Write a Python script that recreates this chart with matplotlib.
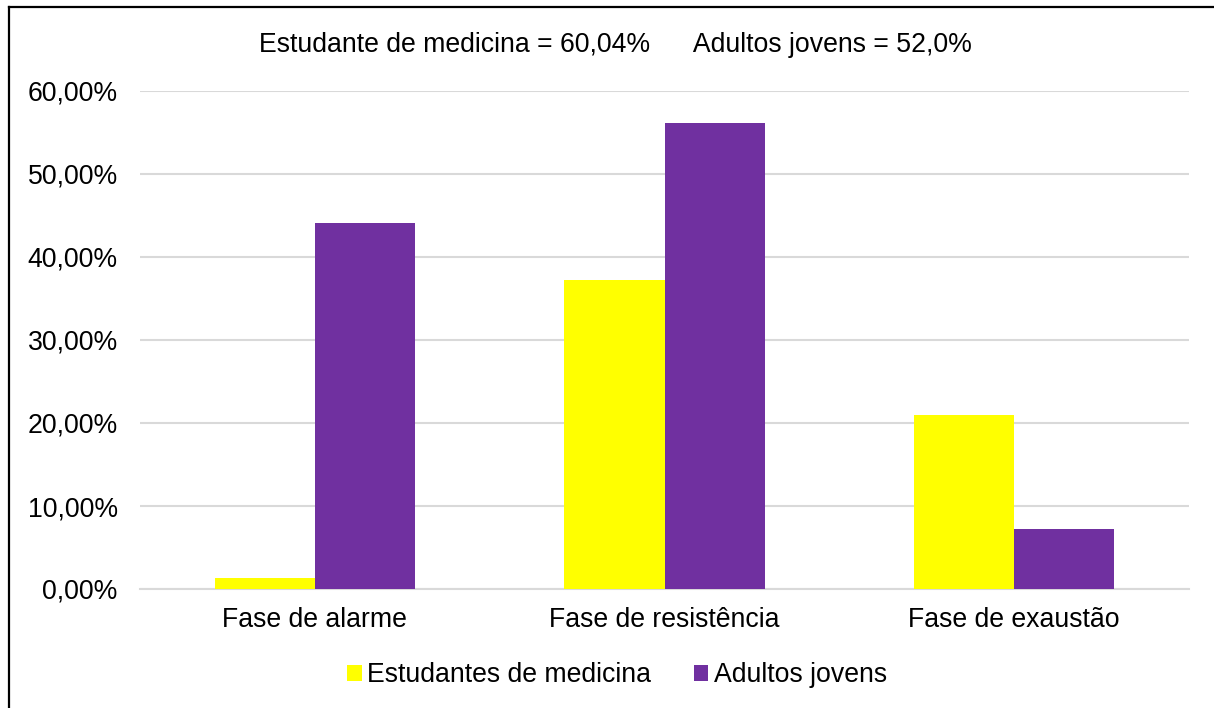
import matplotlib
matplotlib.use("Agg")
import matplotlib.pyplot as plt
import numpy as np
from matplotlib.ticker import FuncFormatter, MultipleLocator
from matplotlib.patches import Patch
from matplotlib.lines import Line2D

plt.rcParams['font.family'] = ['Liberation Sans', 'DejaVu Sans']

categories = ["Fase de alarme", "Fase de resistência", "Fase de exaustão"]
series_names = ["Estudantes de medicina", "Adultos jovens"]
estudantes = [1.3, 37.2, 21.0]
adultos = [44.1, 56.1, 7.2]
colors = ["#FFFF00", "#7030A0"]
title_text = "Estudante de medicina = 60,04%      Adultos jovens = 52,0%"

FS = 19.2
W, H = 1214, 708
fig = plt.figure(figsize=(W / 100, H / 100), dpi=100)
ax = fig.add_axes([140 / W, 1 - 589 / H, (1189 - 140) / W, (589 - 91) / H])

x = np.arange(len(categories))
bw = 0.286
ax.bar(x - bw / 2, estudantes, bw, color=colors[0], zorder=3)
ax.bar(x + bw / 2, adultos, bw, color=colors[1], zorder=3)

ax.set_xlim(-0.5, len(categories) - 0.5)
ax.set_ylim(0, 60)
ax.yaxis.set_major_locator(MultipleLocator(10))
ax.yaxis.set_major_formatter(FuncFormatter(lambda v, p: f"{v:.2f}%".replace(".", ",")))
ax.grid(axis="y", color="#d9d9d9", linewidth=1.5, zorder=0)
ax.set_axisbelow(True)
for s in ["top", "right", "left"]:
    ax.spines[s].set_visible(False)
ax.spines["bottom"].set_color("#d9d9d9")
ax.spines["bottom"].set_linewidth(1.5)
ax.set_xticks(x)
ax.set_xticklabels(categories)
ax.tick_params(axis="both", length=0, labelsize=FS, colors="black")
ax.tick_params(axis="x", pad=13)
ax.tick_params(axis="y", pad=16)

fig.text(615 / W, 1 - 45 / H, title_text, ha="center", va="center", fontsize=FS)

handles = [Patch(facecolor=c, edgecolor="none") for c in colors]
fig.legend(handles, series_names, loc="center", bbox_to_anchor=(617 / W, 1 - 675 / H),
           ncol=2, frameon=False, fontsize=FS, handlelength=0.55, handleheight=0.55,
           handletextpad=0.2, columnspacing=1.6)

fig.add_artist(Line2D([9 / W, 9 / W], [0, 1 - 7 / H], color="black", linewidth=1.6, transform=fig.transFigure))
fig.add_artist(Line2D([9 / W, 1], [1 - 7 / H, 1 - 7 / H], color="black", linewidth=1.6, transform=fig.transFigure))

fig.savefig("out.png", dpi=100)
